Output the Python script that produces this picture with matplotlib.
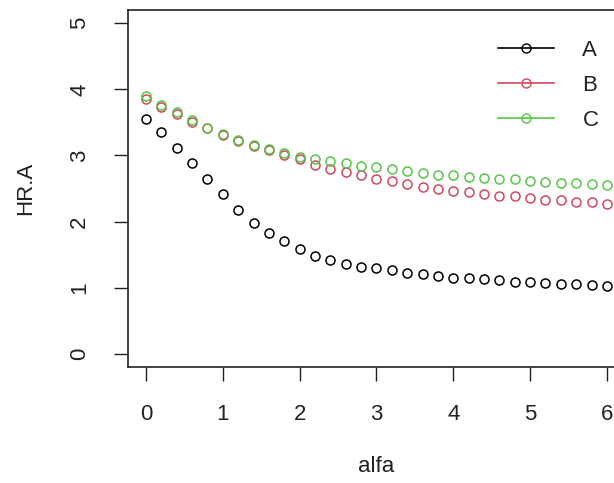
import matplotlib
matplotlib.use("Agg")
import matplotlib.pyplot as plt
from matplotlib.lines import Line2D
import numpy as np

alfa = [0.0, 0.2, 0.4, 0.6, 0.8, 1.0, 1.2, 1.4, 1.6, 1.8, 2.0, 2.2, 2.4, 2.6, 2.8, 3.0,
        3.2, 3.4, 3.6, 3.8, 4.0, 4.2, 4.4, 4.6, 4.8, 5.0, 5.2, 5.4, 5.6, 5.8, 6.0]
hr_a = [3.55, 3.35, 3.12, 2.88, 2.64, 2.41, 2.17, 1.98, 1.83, 1.70, 1.58, 1.48, 1.42, 1.36,
        1.32, 1.29, 1.26, 1.22, 1.20, 1.17, 1.15, 1.14, 1.13, 1.11, 1.09, 1.08, 1.07, 1.06,
        1.05, 1.04, 1.03]
hr_b = [3.86, 3.74, 3.62, 3.51, 3.41, 3.31, 3.22, 3.15, 3.08, 3.01, 2.94, 2.86, 2.80, 2.75,
        2.70, 2.65, 2.61, 2.57, 2.53, 2.50, 2.46, 2.44, 2.42, 2.39, 2.38, 2.35, 2.33, 2.32,
        2.30, 2.29, 2.27]
hr_c = [3.90, 3.77, 3.65, 3.54, 3.42, 3.32, 3.23, 3.16, 3.10, 3.04, 2.97, 2.94, 2.91, 2.88,
        2.84, 2.82, 2.79, 2.76, 2.74, 2.71, 2.70, 2.68, 2.66, 2.65, 2.64, 2.61, 2.60, 2.59,
        2.58, 2.57, 2.56]
series_names = ["A", "B", "C"]
series_colors = ["black", "#D0485F", "#58C448"]
x_ticks = [0, 1, 2, 3, 4, 5, 6]
y_ticks = [0, 1, 2, 3, 4, 5]

plt.rcParams['font.family'] = ['Liberation Sans', 'DejaVu Sans']
fs = 16

fig = plt.figure(figsize=(6.14, 4.83), dpi=100)
ax = fig.add_axes([127.6 / 614, 116 / 483, 497.7 / 614, 357 / 483])

for vals, col in zip([hr_a, hr_b, hr_c], series_colors):
    ax.plot(alfa, vals, linestyle='none', marker='o', markerfacecolor='none',
            markeredgecolor=col, markersize=6.5, markeredgewidth=1.1)

ax.set_xlim(-0.24, 6.24)
ax.set_ylim(-0.2, 5.2)
ax.set_xticks(x_ticks)
ax.set_yticks(y_ticks)
ax.set_xticklabels([str(t) for t in x_ticks], fontsize=fs, color='#222222')
ax.set_yticklabels([str(t) for t in y_ticks], fontsize=fs, color='#222222',
                   rotation=90, va='center')
ax.tick_params(axis='both', length=10, width=1.0, color='#222222')
ax.tick_params(axis='x', pad=17)
ax.tick_params(axis='y', pad=17)

for s in ax.spines.values():
    s.set_linewidth(1.2)
    s.set_color('#222222')

ax.set_xlabel('alfa', fontsize=fs, color='#222222', labelpad=22)
ax.set_ylabel('HR.A', fontsize=fs, color='#222222', labelpad=24)

handles = [Line2D([0], [0], color=c, lw=1.2, marker='o', markerfacecolor='none',
                  markeredgecolor=c, markersize=6.5, markeredgewidth=1.0)
           for c in series_colors]
leg = fig.legend(handles, series_names, loc='upper left',
                 bbox_to_anchor=(498 / 614, 1 - 40 / 483), frameon=False,
                 fontsize=fs, handlelength=2.5, handletextpad=1.3,
                 labelspacing=0.62, borderpad=0, borderaxespad=0)
for t in leg.get_texts():
    t.set_color('#222222')

fig.savefig('out.png', dpi=100)
